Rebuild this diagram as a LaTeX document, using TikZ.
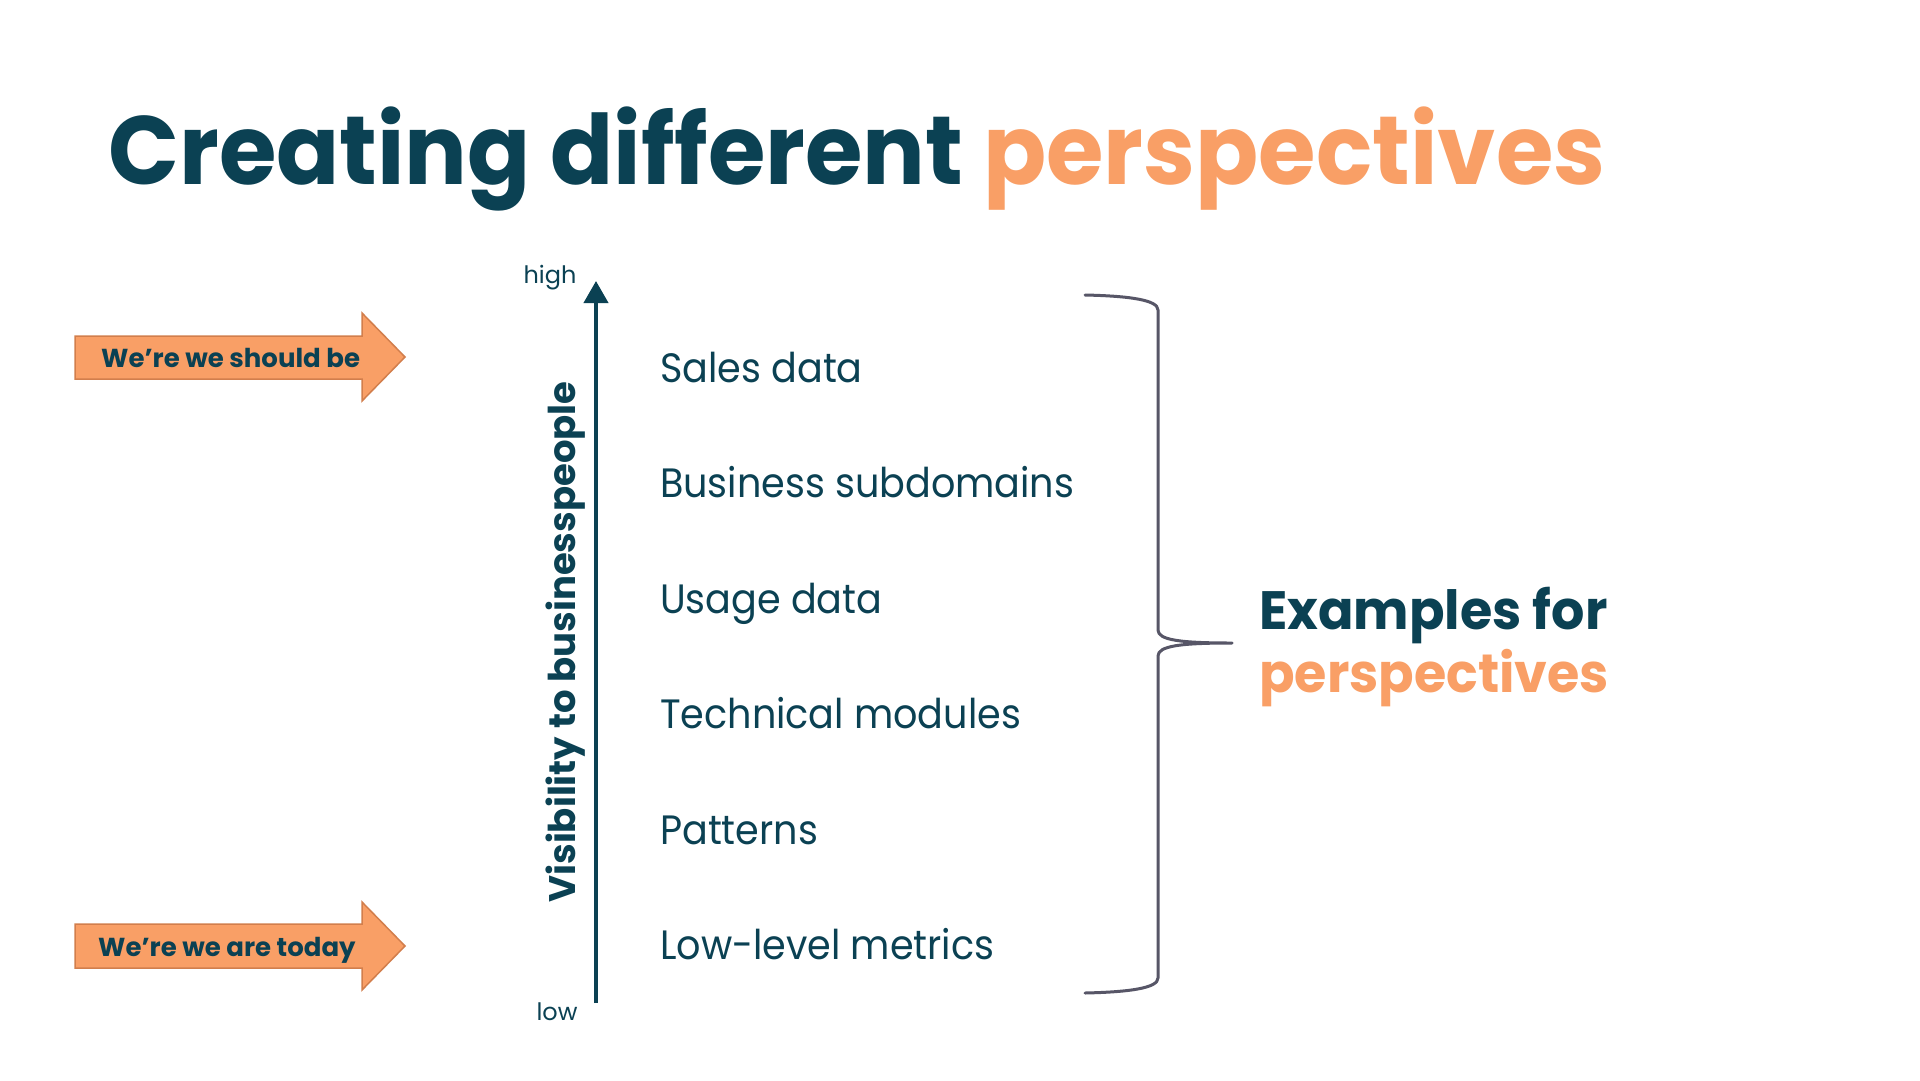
\documentclass[tikz,border=0pt]{standalone}
\usepackage{fontspec}
\setmainfont{Poppins}
\newfontfamily\titlefont[FakeStretch=0.96]{Poppins}
\newfontfamily\itemfont[FakeStretch=0.93]{Poppins}
\newfontfamily\exfont[FakeStretch=0.97]{Poppins}
\usetikzlibrary{arrows.meta}
\definecolor{dk}{HTML}{0B4153}
\definecolor{org}{HTML}{F99F66}
\definecolor{orgline}{HTML}{D27E4C}
\definecolor{brc}{HTML}{575667}
\tikzset{
  item/.style={anchor=base west, inner sep=0pt, text=dk, font=\itemfont\fontsize{41}{50}\selectfont},
  arrbox/.style={draw=orgline, fill=org, line width=1.5pt, line join=miter},
  arrtext/.style={anchor=base west, inner sep=0pt, text=dk, font=\fontsize{26}{30}\selectfont\bfseries},
  ticklbl/.style={inner sep=0pt, text=dk, font=\fontsize{24}{28}\selectfont},
}
\begin{document}
\begin{tikzpicture}[x=1pt,y=-1pt]
\useasboundingbox[fill=white] (0,0) rectangle (1920,1080);
% title
\node[anchor=base west, inner sep=0pt, text=dk, font=\titlefont\fontsize{97}{110}\selectfont\bfseries] (title) at (108,184) {Creating different \textcolor{org}{perspectives}};
% arrows
\draw[arrbox] (75,336) -- (362,336) -- (362,313) -- (405,357) -- (362,401) -- (362,379) -- (75,379) -- cycle;
\node[arrtext] (should) at (101,367) {We’re we should be};
\draw[arrbox] (75,924) -- (362,924) -- (362,902) -- (405,946) -- (362,990) -- (362,968) -- (75,968) -- cycle;
\node[arrtext] (today) at (98,956) {We’re we are today};
% axis
\coordinate (axlow) at (596,1003);
\coordinate (axhigh) at (596,281);
\draw[dk, line width=4pt, -{Triangle[width=24pt,length=22pt]}] (axlow) -- (axhigh);
\node[ticklbl, anchor=base] (high) at (550,283) {high};
\node[ticklbl, anchor=base] (low) at (557,1020) {low};
\node[inner sep=0pt, text=dk, rotate=90, font=\fontsize{37}{44}\selectfont\bfseries] (vis) at (566,642) {Visibility to businesspeople};
% items
\node[item] (i1) at (660,382) {Sales data};
\node[item] (i2) at (660,497) {Business subdomains};
\node[item] (i3) at (660,613) {Usage data};
\node[item] (i4) at (660,728) {Technical modules};
\node[item] (i5) at (660,844) {Patterns};
\node[item] (i6) at (660,959) {Low-level metrics};
% brace
\coordinate (btop) at (1085,295);
\coordinate (bbot) at (1085,993);
\coordinate (btip) at (1232,643);
\draw[brc, line width=3pt, line cap=round, line join=round]
  (btop) .. controls (1130,296) and (1158,300) .. (1158,310)
  -- (1158,630) .. controls (1158,640) and (1180,643) .. (btip)
  .. controls (1180,643) and (1158,646) .. (1158,656)
  -- (1158,978) .. controls (1158,988) and (1130,992) .. (bbot);
% examples
\node[anchor=base west, inner sep=0pt, text=dk, font=\exfont\fontsize{54}{57}\selectfont\bfseries] (ex) at (1259,629) {Examples for};
\node[anchor=base west, inner sep=0pt, text=org, font=\exfont\fontsize{54}{57}\selectfont\bfseries] (ex2) at (1259,692) {perspectives};
\end{tikzpicture}
\end{document}
